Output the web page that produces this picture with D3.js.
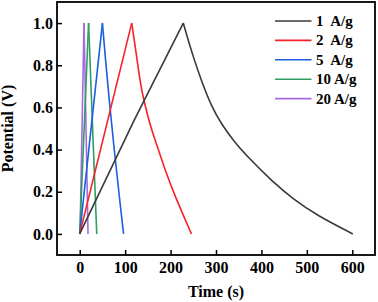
<!DOCTYPE html>
<html>
<head>
<meta charset="utf-8">
<script src="https://cdn.jsdelivr.net/npm/d3@7"></script>
<style>
	body { margin: 0; background: #fff; }
	text { font-family: "Liberation Serif", "Times New Roman", serif; font-weight: bold; fill: #000; }
</style>
</head>
<body>
<div id="chart-area"></div>
<script>
// Series labels and colours
let labels = ["1  A/g", "2  A/g", "5  A/g", "10 A/g", "20 A/g"];
let colors = ["#3a3a3a", "#f5222a", "#1b5fe0", "#2e9f60", "#a66ae0"];

// Charge branches [time (s), potential (V)]
let charge1 = [[0, 0], [120, 0.54], [228, 1.0]];
let charge2 = [[0, 0], [114.5, 1.0]];
let charge5 = [[0, 0], [50, 1.0]];
let charge10 = [[0, 0], [19.5, 1.0]];
let charge20 = [[0.7, 0], [9.5, 1.0]];

// Discharge branches
let discharge1 = [[228, 1.0], [238, 0.925], [250, 0.84], [268, 0.725], [290, 0.605], [312, 0.52], [341, 0.435], [370, 0.365], [423, 0.25], [470, 0.165], [522, 0.088], [601, 0]];
let discharge2 = [[114.5, 1.0], [125.5, 0.84], [133, 0.72], [142, 0.624], [155, 0.517], [166, 0.445], [188, 0.303], [210, 0.177], [246, 0]];
let discharge5 = [[50, 1.0], [57, 0.82], [66, 0.61], [76, 0.4], [86, 0.2], [96.5, 0]];
let discharge10 = [[19.5, 1.0], [30, 0.41], [37.5, 0]];
let discharge20 = [[9.5, 1.0], [14, 0.49], [18.3, 0]];

let charges = [charge1, charge2, charge5, charge10, charge20];
let discharges = [discharge1, discharge2, discharge5, discharge10, discharge20];

// Ticks
let xTicks = [0, 100, 200, 300, 400, 500, 600];
let yTicks = [0.0, 0.2, 0.4, 0.6, 0.8, 1.0];

// Create SVG drawing space
let margin = {top: 2, right: 3, bottom: 47, left: 57};
let width = 378 - margin.left - margin.right;
let height = 302 - margin.top - margin.bottom;
let svg = d3.select("#chart-area")
	.append("svg")
	.attr("width", 378)
	.attr("height", 302)
	.append("g")
	.attr("transform", "translate(" + margin.left + "," + margin.top + ")");

// Scales
let x = d3.scaleLinear()
	.domain([-50, 650])
	.range([0, width]);
let y = d3.scaleLinear()
	.domain([-0.1, 1.1])
	.range([height, 0]);

// Axes (ticks inward)
let xAxis = d3.axisBottom(x)
	.tickValues(xTicks)
	.tickSize(-5)
	.tickPadding(7)
	.tickFormat(d3.format("d"));
let yAxis = d3.axisLeft(y)
	.tickValues(yTicks)
	.tickSize(-5)
	.tickPadding(4)
	.tickFormat(d3.format(".1f"));

let xAxisGroup = svg.append("g")
	.attr("class", "axis x-axis")
	.attr("transform", "translate(0, " + height + ")")
	.call(xAxis);
let yAxisGroup = svg.append("g")
	.attr("class", "axis y-axis")
	.call(yAxis);

svg.selectAll(".axis .domain").remove();
svg.selectAll(".axis")
	.attr("font-family", null)
	.attr("font-size", null);
svg.selectAll(".axis .tick line")
	.attr("stroke", "#000")
	.attr("stroke-width", 1.5);
svg.selectAll(".axis .tick text")
	.style("font-size", "16px")
	.style("font-weight", "bold");

// Frame
svg.append("rect")
	.attr("x", 0)
	.attr("y", 0)
	.attr("width", width)
	.attr("height", height)
	.attr("fill", "none")
	.attr("stroke", "#000")
	.attr("stroke-width", 1.8);

// Lines
let chargeLine = d3.line()
	.x(d => x(d[0]))
	.y(d => y(d[1]))
	.curve(d3.curveLinear);
let dischargeLine = d3.line()
	.x(d => x(d[0]))
	.y(d => y(d[1]))
	.curve(d3.curveBasis);

// Draw from the last series so 1 A/g stays on top
for (let i = labels.length - 1; i >= 0; i--) {
	svg.append("path")
		.datum(charges[i])
		.attr("fill", "none")
		.attr("stroke", colors[i])
		.attr("stroke-width", 1.6)
		.attr("d", chargeLine);
	svg.append("path")
		.datum(discharges[i])
		.attr("fill", "none")
		.attr("stroke", colors[i])
		.attr("stroke-width", 1.6)
		.attr("d", dischargeLine);
}

// Legend
let legend = svg.append("g")
	.attr("transform", "translate(218, 19)");
labels.forEach((label, i) => {
	let row = legend.append("g")
		.attr("transform", "translate(0, " + (i * 19.4) + ")");
	row.append("line")
		.attr("x1", 0)
		.attr("x2", 36.5)
		.attr("stroke", colors[i])
		.attr("stroke-width", 1.6);
	row.append("text")
		.attr("x", 41)
		.attr("y", 5)
		.style("font-size", "15px")
		.style("white-space", "pre")
		.attr("xml:space", "preserve")
		.text(label);
});

// Axis titles
svg.append("text")
	.attr("x", width / 2)
	.attr("y", height + 42)
	.attr("text-anchor", "middle")
	.style("font-size", "16px")
	.text("Time (s)");
svg.append("text")
	.attr("transform", "translate(" + (-44) + "," + (height / 2) + ") rotate(-90)")
	.attr("text-anchor", "middle")
	.style("font-size", "16px")
	.text("Potential (V)");
</script>
</body>
</html>
